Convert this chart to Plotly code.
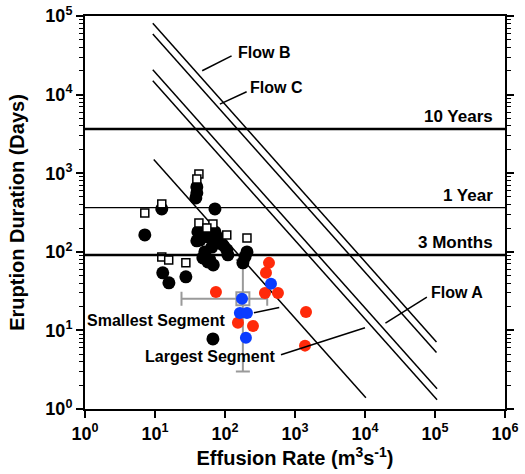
import numpy as np
import plotly.graph_objects as go

# ---------------- data ----------------
# black filled circles
eruption_rate = [7.15, 12.5, 71.8, 39.6, 39.6, 38.3, 41, 39.6, 53.3, 56.9, 71.8, 76.6, 84.6, 93.3,
                 106, 110, 51.5, 48.3, 56.9, 68, 65, 43.8, 60.8, 206, 193, 180, 12.9, 15.8, 27.6, 67.2]
eruption_dur = [164, 351, 351, 668, 561, 485, 179, 138, 190, 155, 179, 155, 142, 122,
                106, 91.4, 99.7, 83.6, 74.3, 68, 115, 141, 78.9, 99.7, 86, 72.3, 54, 40.3, 48, 7.8]
# open squares
square_rate = [7.15, 12.5, 42.4, 39.6, 42.4, 67.2, 55.1, 106, 206, 12.5, 15.7, 27.6]
square_dur = [312, 406, 977, 844, 233, 226, 201, 164, 150, 86, 78.9, 72.3]
# red circles
red_rate = [74.2, 425, 385, 372, 571, 1437, 1390, 153, 251]
red_dur = [30.9, 72.3, 54, 30, 30, 17.2, 6.4, 12.5, 11.4]
# blue circles
blue_rate = [454, 175, 163, 206, 199]
blue_dur = [39.1, 25.2, 16.7, 16.7, 8.05]
# grey mean with range
mean_rate = [180]
mean_dur = [25.2]
rate_lo, rate_hi = [23.9], [401]
dur_lo, dur_hi = [3.0], [78.9]
# constant-volume flow lines (rate * duration) and rate extents
flow_products = [7.5e5, 5.5e5, 1.93e5, 1.4e5, 1.43e4]
flow_rate_start = [9.3, 9.3, 9.3, 9.3, 9.6]
flow_rate_end = [1.05e5, 1.05e5, 1.07e5, 1.07e5, 1.03e4]
# reference durations (days)
ref_durations = [3650, 365, 91.25]
ref_labels = ["10 Years", "1 Year", "3 Months"]
ref_widths = [2.5, 1.3, 2.5]

x_ticks = [1, 10, 100, 1e3, 1e4, 1e5, 1e6]
x_ticktext = ["10<sup>%d</sup>" % i for i in range(7)]
y_ticks = [1, 10, 100, 1e3, 1e4, 1e5]
y_ticktext = ["10<sup>%d</sup>" % i for i in range(6)]

FONT = "Liberation Sans, Arial, Helvetica, sans-serif"

fig = go.Figure()

# flow lines
for v, xs, xe in zip(flow_products, flow_rate_start, flow_rate_end):
    xx = np.array([xs, xe])
    fig.add_trace(go.Scatter(x=xx, y=v / xx, mode="lines",
                             line=dict(color="black", width=1.5), hoverinfo="skip"))

# grey mean with error bars
fig.add_trace(go.Scatter(
    x=mean_rate, y=mean_dur, mode="markers",
    marker=dict(symbol="square-open", size=13, color="#9a9a9a", line=dict(width=2, color="#9a9a9a")),
    error_x=dict(type="data", symmetric=False,
                 array=[h - m for h, m in zip(rate_hi, mean_rate)],
                 arrayminus=[m - l for l, m in zip(rate_lo, mean_rate)],
                 color="#9a9a9a", thickness=2, width=7),
    error_y=dict(type="data", symmetric=False,
                 array=[h - m for h, m in zip(dur_hi, mean_dur)],
                 arrayminus=[m - l for l, m in zip(dur_lo, mean_dur)],
                 color="#9a9a9a", thickness=2, width=7),
))

fig.add_trace(go.Scatter(x=eruption_rate, y=eruption_dur, mode="markers",
                         marker=dict(symbol="circle", size=13, color="black")))
fig.add_trace(go.Scatter(x=square_rate, y=square_dur, mode="markers",
                         marker=dict(symbol="square", size=8, color="white",
                                     line=dict(color="black", width=1.5))))
fig.add_trace(go.Scatter(x=red_rate, y=red_dur, mode="markers",
                         marker=dict(symbol="circle", size=12, color="#ff2a0a")))
fig.add_trace(go.Scatter(x=blue_rate, y=blue_dur, mode="markers",
                         marker=dict(symbol="circle", size=12, color="#0a3cff")))

# reference horizontal lines
for d, lab, w in zip(ref_durations, ref_labels, ref_widths):
    fig.add_shape(type="line", xref="paper", x0=0, x1=1, yref="y", y0=d, y1=d,
                  line=dict(color="black", width=w), layer="above")
    fig.add_annotation(x=0.975, xref="paper", y=np.log10(d), yref="y", text="<b>%s</b>" % lab,
                       showarrow=False, xanchor="right", yanchor="bottom", yshift=1,
                       font=dict(family=FONT, size=17, color="black"))

# pointer lines (log10 coordinates)
pointers = [
    ((2.094, 4.493), (1.674, 4.303)),   # Flow B
    ((2.309, 4.036), (1.927, 3.879)),   # Flow C
    ((4.884, 1.423), (4.292, 1.093)),   # Flow A
    ((2.413, 1.224), (2.775, 1.291)),   # Smallest Segment
    ((2.800, 0.690), (4.000, 1.033)),   # Largest Segment
]
for (a, b) in pointers:
    fig.add_shape(type="line", xref="x", yref="y", x0=10 ** a[0], y0=10 ** a[1],
                  x1=10 ** b[0], y1=10 ** b[1], line=dict(color="black", width=1.5))

labels = [
    ("Flow B", 2.557, 4.540),
    ("Flow C", 2.742, 4.095),
    ("Flow A", 5.317, 1.478),
    ("Smallest Segment", 1.026, 1.122),
    ("Largest Segment", 1.791, 0.665),
]
for t, lx, ly in labels:
    fig.add_annotation(x=lx, y=ly, xref="x", yref="y", text="<b>%s</b>" % t, showarrow=False,
                       font=dict(family=FONT, size=16, color="black"))

minor_vals = [k * 10 ** n for n in range(0, 5) for k in range(2, 10)]

fig.update_layout(
    width=525, height=474,
    margin=dict(l=85, r=20, t=16, b=65),
    paper_bgcolor="white", plot_bgcolor="white",
    showlegend=False,
    font=dict(family=FONT, color="black"),
    xaxis=dict(type="log", range=[0, 6], tickvals=x_ticks, ticktext=x_ticktext,
               ticks="outside", ticklen=7, tickwidth=2, tickcolor="black",
               showline=True, linewidth=2, linecolor="black", mirror=True,
               showgrid=False, zeroline=False, automargin=False,
               tickfont=dict(family=FONT, size=18, color="black", weight="bold"),
               title=dict(text="<b>Effusion Rate (m<sup>3</sup>s<sup>-1</sup>)</b>",
                          font=dict(family=FONT, size=20, color="black"), standoff=6)),
    yaxis=dict(type="log", range=[0, 5], tickvals=y_ticks, ticktext=y_ticktext,
               ticks="outside", ticklen=7, tickwidth=2, tickcolor="black",
               showline=True, linewidth=2, linecolor="black", mirror="allticks",
               showgrid=False, zeroline=False, automargin=False,
               minor=dict(tickvals=minor_vals, ticks="outside", ticklen=4, tickwidth=1,
                          tickcolor="black", showgrid=False),
               tickfont=dict(family=FONT, size=18, color="black", weight="bold"),
               title=dict(text="<b>Eruption Duration (Days)</b>",
                          font=dict(family=FONT, size=20, color="black"), standoff=15)),
)

fig.write_html("out.html")
